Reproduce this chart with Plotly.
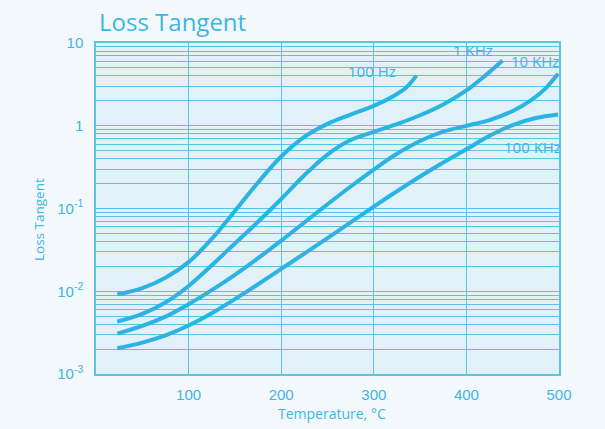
import math
import plotly.graph_objects as go

# ---- data ----
series_names = ["100 Hz", "1 KHz", "10 KHz", "100 KHz"]

t_100hz = [23, 50, 75, 100, 125, 150, 175, 200, 225, 250, 275, 300, 320, 335, 346]
v_100hz = [0.00918, 0.01094, 0.01459, 0.02249, 0.04285, 0.0933, 0.2065, 0.4246, 0.7328, 1.054,
           1.365, 1.738, 2.239, 2.904, 4.036]

t_1khz = [23, 50, 75, 100, 125, 150, 175, 200, 225, 250, 275, 300, 325, 350, 375, 400, 420, 439]
v_1khz = [0.00429, 0.00532, 0.00731, 0.01159, 0.0206, 0.03776, 0.0692, 0.1303, 0.2523, 0.4487,
          0.6714, 0.8453, 1.047, 1.340, 1.807, 2.673, 4.009, 6.152]

t_10khz = [23, 50, 75, 100, 125, 150, 175, 200, 225, 250, 275, 300, 325, 350, 375, 400, 425, 450, 470, 485, 499]
v_10khz = [0.00307, 0.00381, 0.00494, 0.00698, 0.01033, 0.01581, 0.02506, 0.04083, 0.06776, 0.1125,
           0.1845, 0.2958, 0.4581, 0.6546, 0.8492, 0.9977, 1.172, 1.510, 2.046, 2.793, 4.246]

t_100khz = [23, 50, 75, 100, 125, 150, 175, 200, 225, 250, 275, 300, 325, 350, 375, 400, 425, 450, 475, 499]
v_100khz = [0.00205, 0.00239, 0.00292, 0.00385, 0.00543, 0.00804, 0.01216, 0.01862, 0.02851, 0.04395,
            0.06808, 0.1054, 0.1614, 0.2432, 0.3597, 0.52, 0.7551, 1.019, 1.239, 1.368]

x_ticks = [100, 200, 300, 400, 500]
y_ticks = [0.001, 0.01, 0.1, 1, 10]
y_ticktext = ["10<sup>-3</sup>", "10<sup>-2</sup>", "10<sup>-1</sup>", "1", "10"]
minor_mult = [2, 3, 4, 5, 6, 7, 8, 9]
decades = [0.001, 0.01, 0.1, 1]

# label positions (temperature, loss tangent)
label_x = [298, 407, 474.5, 471]
label_y = [4.65, 8.3, 5.98, 0.55]

# ---- styling ----
BLUE = "#2ab4e2"
TEXT = "#3db6e2"
GRID = "#5cc3e6"

fig = go.Figure()
for t, v in [(t_100hz, v_100hz), (t_1khz, v_1khz), (t_10khz, v_10khz), (t_100khz, v_100khz)]:
    fig.add_trace(go.Scatter(x=t, y=v, mode="lines",
                             line=dict(color=BLUE, width=4, shape="spline", smoothing=1.0),
                             showlegend=False, hoverinfo="skip"))

minor_vals = [d * m for d in decades for m in minor_mult]

fig.update_layout(
    width=605, height=429,
    margin=dict(l=96, r=46, t=43, b=55),
    paper_bgcolor="#f3f8fc",
    plot_bgcolor="#e2f0f8",
    showlegend=False,
    xaxis=dict(range=[0, 500], tickvals=x_ticks, showgrid=True, gridcolor=GRID, gridwidth=1,
               showline=True, linecolor=GRID, linewidth=1.5, mirror=True, zeroline=False,
               ticks="", ticklabelstandoff=6,
               tickfont=dict(family="Liberation Sans, Arial", size=15, color=TEXT)),
    yaxis=dict(type="log", range=[-3, 1], tickvals=y_ticks, ticktext=y_ticktext,
               showgrid=True, gridcolor=GRID, gridwidth=1,
               minor=dict(tickvals=minor_vals, showgrid=True, gridcolor=GRID, gridwidth=1),
               showline=True, linecolor=GRID, linewidth=1.5, mirror=True, zeroline=False,
               ticks="", ticklabelstandoff=8,
               tickfont=dict(family="Liberation Sans, Arial", size=15, color=TEXT)),
)

# title
fig.add_annotation(text="Loss Tangent", xref="paper", yref="paper",
                   x=(97 - 96) / 463, y=1 + (43 - 22) / 331, xanchor="left", yanchor="middle",
                   showarrow=False, font=dict(family="Open Sans", size=24, color=TEXT))
# axis titles
fig.add_annotation(text="Temperature, °C", xref="paper", yref="paper",
                   x=(332 - 96) / 463, y=-(413 - 374) / 331, xanchor="center", yanchor="middle",
                   showarrow=False, font=dict(family="Open Sans", size=14, color=TEXT))
fig.add_annotation(text="Loss Tangent", xref="paper", yref="paper", textangle=-90,
                   x=-(96 - 39) / 463, y=(374 - 220) / 331, xanchor="center", yanchor="middle",
                   showarrow=False, font=dict(family="Open Sans", size=13.5, color=TEXT))

for name, lx, ly in zip(series_names, label_x, label_y):
    fig.add_annotation(text=name, x=lx, y=math.log10(ly), xref="x", yref="y",
                       showarrow=False, xanchor="center", yanchor="middle",
                       font=dict(family="Open Sans", size=15, color=TEXT))

fig.write_html("out.html", config={"displayModeBar": False},
               post_script="document.body.style.margin='0';")
